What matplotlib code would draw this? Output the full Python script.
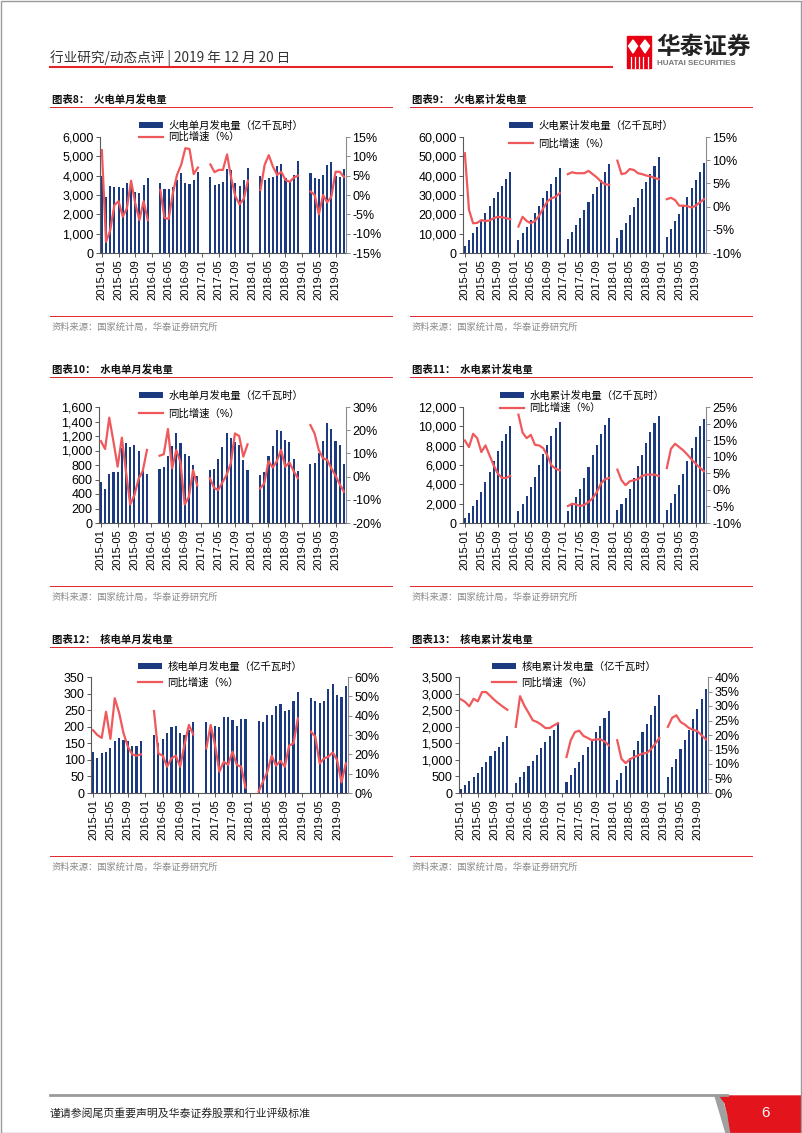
import numpy as np
import matplotlib.pyplot as plt
from matplotlib.lines import Line2D
from matplotlib.patches import Polygon, Rectangle
from matplotlib.ticker import FuncFormatter, MultipleLocator

plt.rcParams['font.family'] = ['Liberation Sans', 'Noto Sans CJK SC']

W, H = 802, 1133
nan = np.nan
BLUE = '#1c3a80'
LINE_RED = '#f0595c'
RED = '#e3242b'
CJK = ['Noto Sans CJK SC', 'DejaVu Sans']

# 2015-01 .. 2019-11, Jan (and Feb for monthly) not published after 2015
months = [f'{y}-{m:02d}' for y in range(2015, 2020) for m in range(1, 13)][:59]

# ---- 图表8 火电单月 ----
thermal_m = [4000, 2900, 3480, 3410, 3420, 3340, 3640, 3680, 3130, 3090, 3520, 3860,
             nan, nan, 3640, 3290, 3290, 3430, 3780, 4140, 3600, 3560, 3780, 4210,
             nan, nan, 3950, 3520, 3550, 3690, 4330, 4290, 3600, 3470, 3760, 4400,
             nan, nan, 4000, 3760, 3900, 3910, 4520, 4590, 3860, 3720, 4030, 4780,
             nan, nan, 4160, 3870, 3830, 4040, 4550, 4720, 3960, 3950, 4330]
thermal_m_yoy = [11.6, -12.1, -9.1, -2.6, -1.6, -5.6, -3.4, 3.7, -2.2, -6.5, -1.6, -6.5,
                 nan, nan, 1.3, -5.9, -6.2, 0.4, 5.2, 7.8, 12.1, 11.9, 5.4, 7.1,
                 nan, nan, 7.9, 5.9, 6.5, 6.5, 10.5, 4.3, -0.4, -2.4, -1.0, 3.7,
                 nan, nan, 1.3, 7.8, 10.3, 7.3, 5.2, 6.0, 3.9, 3.4, 4.5, 5.0,
                 nan, nan, 0.9, 0.0, -5.0, 0.0, -1.9, -0.4, 6.0, 6.0, 4.7]

# ---- 图表9 火电累计 ----
thermal_c = [3800, 6800, 10500, 13700, 17100, 20700, 24500, 28300, 31300, 34500, 38200, 42000,
             nan, 6600, 10500, 13600, 17100, 20700, 24500, 28600, 32200, 35900, 39500, 43800,
             nan, 7100, 11000, 14500, 18300, 22200, 26200, 30700, 34300, 37900, 41700, 46000,
             nan, 7900, 12100, 15700, 19700, 23800, 28300, 32900, 36900, 40700, 44800, 49700,
             nan, 8400, 12600, 16600, 20300, 24500, 29000, 33400, 37800, 42100, 46400]
thermal_c_yoy = [11.5, -0.7, -3.6, -3.5, -2.9, -3.1, -3.0, -2.5, -2.2, -2.3, -2.5, -2.7,
                 nan, -4.3, -2.2, -3.1, -3.6, -3.1, -2.0, -0.4, 1.1, 1.8, 2.1, 2.9,
                 nan, 7.0, 7.4, 7.2, 7.2, 7.2, 7.7, 7.0, 6.3, 5.4, 4.8, 4.7,
                 nan, 9.9, 7.0, 7.2, 8.1, 7.9, 7.2, 7.0, 6.7, 6.5, 6.2, 5.9,
                 nan, 1.6, 1.9, 1.4, 0.2, 0.2, 0.1, -0.2, 0.2, 0.9, 1.6]

# ---- 图表10 水电单月 ----
hydro_m = [560, 470, 670, 700, 700, 1030, 1100, 1045, 1070, 1000, 740, 680,
           nan, nan, 745, 775, 930, 1060, 1237, 1108, 947, 920, 805, 653,
           nan, nan, 726, 745, 883, 1044, 1246, 1168, 1122, 1076, 874, 736,
           nan, nan, 662, 699, 920, 1062, 1287, 1269, 1140, 1122, 878, 717,
           nan, nan, 809, 823, 960, 1136, 1375, 1297, 1131, 1071, 814]
hydro_m_yoy = [15.3, 11.9, 25.4, 15.1, 4.3, 16.8, 2.0, -12.0, -8.0, -1.0, 2.5, 11.5,
               nan, nan, 9.0, 9.6, 20.5, 3.6, 11.5, 6.1, -12.0, -8.7, 2.8, -3.9,
               nan, nan, -0.7, -4.8, -5.8, -2.5, 0.7, 5.7, 18.6, 17.5, 8.6, 13.9,
               nan, nan, -5.1, -2.9, 6.7, 3.9, 6.7, 11.5, 4.3, 6.1, 2.4, -0.7,
               nan, nan, 22.2, 18.6, 11.5, 7.9, 7.2, 3.6, 0.4, -3.3, -6.5]

# ---- 图表11 水电累计 ----
hydro_c = [550, 1030, 1720, 2410, 3170, 4200, 5320, 6380, 7450, 8450, 9240, 10000,
           nan, 1280, 2000, 2790, 3720, 4760, 6030, 7100, 8100, 9000, 9860, 10500,
           nan, 1240, 1970, 2660, 3550, 4620, 5800, 7000, 8100, 9240, 10100, 10860,
           nan, 1300, 1920, 2620, 3550, 4700, 5860, 7050, 8300, 9400, 10300, 11050,
           nan, 1300, 2100, 2950, 3950, 5100, 6450, 7800, 8900, 10000, 10800]
hydro_c_yoy = [14.9, 12.9, 16.9, 15.6, 11.4, 13.4, 10.4, 7.4, 4.9, 3.6, 3.6, 4.2,
               nan, 22.7, 17.3, 15.6, 16.6, 13.6, 13.4, 12.6, 10.4, 7.4, 6.4, 5.9,
               nan, -4.9, -4.2, -4.4, -4.9, -4.5, -3.7, -2.5, -0.7, 1.9, 3.2, 3.6,
               nan, 6.1, 2.9, 1.4, 2.6, 2.9, 3.2, 4.2, 4.6, 4.6, 4.6, 4.2,
               nan, 6.6, 12.4, 13.9, 12.9, 11.9, 10.6, 9.2, 7.9, 6.7, 5.6]

# ---- 图表12 核电单月 ----
nuclear_m = [123, 106, 122, 124, 136, 158, 167, 160, 158, 141, 143, 158,
             nan, nan, 174, 150, 164, 180, 198, 202, 180, 175, 191, 213,
             nan, nan, 213, 203, 203, 198, 230, 230, 220, 202, 223, 222,
             nan, nan, 217, 215, 235, 236, 262, 268, 246, 251, 279, 306,
             nan, nan, 288, 278, 272, 279, 313, 328, 296, 289, 324]
nuclear_m_yoy = [32.5, 30.0, 28.5, 42.0, 28.0, 49.0, 41.5, 31.0, 24.0, 20.0, 19.3, 20.0,
                 nan, nan, 42.4, 20.5, 19.3, 13.6, 17.9, 19.3, 13.6, 25.0, 35.2, 30.3,
                 nan, nan, 23.1, 35.2, 24.8, 11.0, 16.2, 14.5, 21.4, 14.5, 13.6, 2.8,
                 nan, nan, 0.7, 5.9, 11.0, 19.3, 14.1, 16.6, 13.6, 24.5, 25.7, 38.6,
                 nan, nan, 31.7, 29.1, 15.3, 17.9, 18.8, 21.0, 17.1, 5.5, 15.3]

# ---- 图表13 核电累计 ----
nuclear_c = [121, 231, 352, 483, 604, 775, 936, 1107, 1258, 1398, 1549, 1710,
             nan, 290, 470, 620, 800, 960, 1150, 1360, 1550, 1720, 1900, 2110,
             nan, 330, 550, 750, 950, 1150, 1380, 1600, 1830, 2030, 2260, 2480,
             nan, 390, 600, 820, 1060, 1300, 1560, 1830, 2080, 2340, 2640, 2950,
             nan, 480, 770, 1040, 1320, 1590, 1900, 2240, 2540, 2830, 3150]
nuclear_c_yoy = [32.3, 31.4, 29.9, 32.5, 31.6, 34.8, 34.8, 33.4, 32.0, 30.8, 29.7, 28.7,
                 nan, 22.8, 33.4, 30.2, 27.7, 25.1, 24.5, 23.6, 22.4, 22.4, 23.3, 24.1,
                 nan, 12.4, 18.2, 21.0, 21.5, 19.7, 19.0, 18.2, 18.5, 18.5, 17.8, 16.4,
                 nan, 18.2, 11.8, 10.3, 11.6, 12.4, 13.0, 13.6, 13.8, 15.1, 17.0, 19.0,
                 nan, 22.8, 25.9, 26.8, 24.5, 23.6, 22.4, 21.8, 21.3, 19.9, 18.5]


def fx(x):
    return x / W


def fy(y):
    return 1 - y / H


fig = plt.figure(figsize=(W / 100, H / 100), dpi=100)


def chart(box, bars, yoy, bar_name, ymax, ystep, prange, pstep, leg):
    l, t, r, b = box
    ax = fig.add_axes([fx(l), fy(b), (r - l) / W, (b - t) / H])
    x = np.arange(len(months))
    hb = ax.bar(x, bars, width=0.5, color=BLUE, zorder=2)
    ax.set_xlim(-0.45, 58.5)
    ax.set_ylim(0, ymax)
    ax.yaxis.set_major_locator(MultipleLocator(ystep))
    ax.yaxis.set_major_formatter(FuncFormatter(lambda v, p: f'{v:,.0f}'))
    ax.set_xticks(x[::4])
    ax.set_xticklabels(months[::4], rotation=90)
    ax.tick_params(axis='x', length=3, width=0.7, color='#595959', labelsize=8, pad=1.5)
    ax.tick_params(axis='y', length=3, width=0.7, color='#595959', labelsize=9, pad=1.5)

    ax2 = ax.twinx()
    hl, = ax2.plot(x, yoy, color=LINE_RED, lw=1.6)
    ax2.set_ylim(*prange)
    ax2.yaxis.set_major_locator(MultipleLocator(pstep))
    ax2.yaxis.set_major_formatter(FuncFormatter(lambda v, p: f'{v:.0f}%'))
    ax2.tick_params(axis='y', length=3, width=0.7, color='#8c8c8c', labelsize=9, pad=1.5)

    ax.spines['top'].set_visible(False)
    ax.spines['right'].set_visible(False)
    ax.spines['left'].set_color('#595959')
    ax.spines['bottom'].set_color('#595959')
    for s in ('top', 'left', 'bottom'):
        ax2.spines[s].set_visible(False)
    ax2.spines['right'].set_color('#8c8c8c')

    # legend sits above the plot area
    hx, y1, y2 = leg
    fs = 7.5
    ls = max(y2 - y1 - 11, 0) / (fs * 100 / 72)
    ax2.legend([hb, hl], [bar_name, '同比增速（%）'], loc='center left',
               bbox_to_anchor=(fx(hx), fy((y1 + y2) / 2)), bbox_transform=fig.transFigure,
               frameon=False, fontsize=fs, borderpad=0, handlelength=2.3,
               handleheight=0.5, handletextpad=0.5, labelspacing=ls)


def panel(x0, x1, dy, title):
    fig.text(fx(x0 + 2), fy(dy + 99), title, fontsize=7.5, fontweight='bold',
             va='center', family=CJK, color='#111')
    fig.add_artist(Line2D([fx(x0), fx(x1)], [fy(dy + 107)] * 2, color=RED, lw=0.7))
    fig.add_artist(Line2D([fx(x0), fx(x1)], [fy(dy + 316)] * 2, color=RED, lw=0.7))
    fig.text(fx(x0 + 2), fy(dy + 327.5), '资料来源：国家统计局，华泰证券研究所',
             fontsize=6.7, color='#8a8a8a', va='center', family=CJK)


panel(50, 392, 0, '图表8：  火电单月发电量')
panel(410, 752, 0, '图表9：  火电累计发电量')
panel(50, 392, 270, '图表10：  水电单月发电量')
panel(410, 752, 270, '图表11：  水电累计发电量')
panel(50, 392, 540, '图表12：  核电单月发电量')
panel(410, 752, 540, '图表13：  核电累计发电量')

chart((100, 137, 346, 253), thermal_m, thermal_m_yoy, '火电单月发电量（亿千瓦时）',
      6000, 1000, (-15, 15), 5, (134, 125, 137.5))
chart((463, 137, 706, 253), thermal_c, thermal_c_yoy, '火电累计发电量（亿千瓦时）',
      60000, 10000, (-10, 15), 5, (504, 125.7, 144))
chart((99, 407, 346, 523), hydro_m, hydro_m_yoy, '水电单月发电量（亿千瓦时）',
      1600, 200, (-20, 30), 10, (134, 395.7, 414))
chart((463, 407, 706, 523), hydro_c, hydro_c_yoy, '水电累计发电量（亿千瓦时）',
      12000, 2000, (-10, 25), 5, (495, 395, 408.3))
chart((91, 677, 348, 793), nuclear_m, nuclear_m_yoy, '核电单月发电量（亿千瓦时）',
      350, 50, (0, 60), 10, (133, 666, 683))
chart((459, 677, 708, 793), nuclear_c, nuclear_c_yoy, '核电累计发电量（亿千瓦时）',
      3500, 500, (0, 40), 5, (487, 666, 683))

# header
fig.text(fx(50), fy(58), '行业研究/动态点评 | 2019 年 12 月 20 日', fontsize=9.8,
         va='center', family=CJK, color='#333')
fig.add_artist(Line2D([fx(50), fx(612)], [fy(66.5)] * 2, color=RED, lw=1.5))

# logo
T = fig.transFigure
fig.add_artist(Rectangle((fx(627), fy(68)), 24 / W, 32 / H, color='#e60012', transform=T))
for cx in (633, 645):
    fig.add_artist(Polygon([(fx(cx - 4.5), fy(46)), (fx(cx), fy(40)), (fx(cx + 4.5), fy(46)),
                            (fx(cx), fy(53))], closed=True, color='white', transform=T))
for sx in (630.5, 635, 639, 643, 647.5):
    fig.add_artist(Line2D([fx(sx), fx(sx)], [fy(57), fy(68)], color='white', lw=0.9))
fig.text(fx(656), fy(47), '华泰证券', fontsize=17, fontweight='bold', va='center',
         family=CJK, color='#222')
fig.text(fx(657), fy(63.5), 'HUATAI SECURITIES', fontsize=5.8, fontweight='bold',
         va='center', color='#777')

# footer
fig.add_artist(Line2D([fx(50), fx(727)], [fy(1095)] * 2, color='#9a9a9a', lw=2))
fig.add_artist(Polygon([(fx(715), fy(1096)), (fx(721), fy(1096)), (fx(732), fy(1133)),
                        (fx(726), fy(1133))], closed=True, color='#a0a0a0', transform=T))
fig.add_artist(Polygon([(fx(720), fy(1096)), (fx(802), fy(1096)), (fx(802), fy(1133)),
                        (fx(731), fy(1133)), (fx(728), fy(1115)), (fx(725), fy(1103))],
                       closed=True, color='#e3141b', transform=T))
fig.text(fx(766), fy(1113), '6', color='white', fontsize=11, ha='center', va='center')
fig.text(fx(50), fy(1113), '谨请参阅尾页重要声明及华泰证券股票和行业评级标准', fontsize=7.85,
         va='center', family=CJK, color='#222')

# page frame
fig.add_artist(Rectangle((0.5 / W, 0.5 / H), 1 - 1.5 / W, 1 - 1.5 / H, fill=False,
                         edgecolor='#9a9a9a', lw=1, transform=T))

fig.savefig('out.png', dpi=100)
